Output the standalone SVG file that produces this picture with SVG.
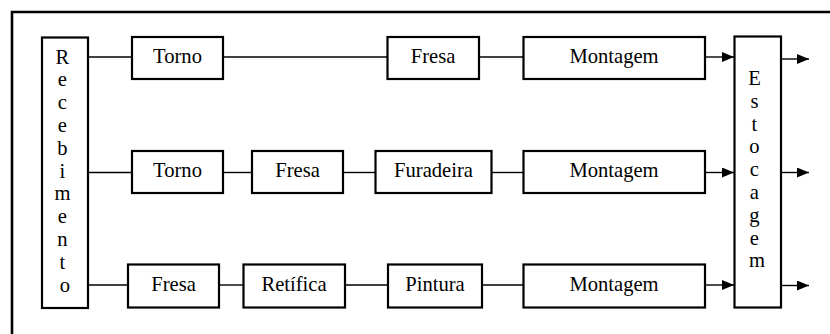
<svg xmlns="http://www.w3.org/2000/svg" width="830" height="334" viewBox="0 0 830 334">
  <style>
    .box { fill: #fff; stroke: #000; stroke-width: 2.2; }
    .frame { fill: none; stroke: #000; stroke-width: 2.6; }
    .ln { fill: none; stroke: #000; stroke-width: 1.4; }
    .arr { fill: none; stroke: #000; stroke-width: 1.4; marker-end: url(#ah); }
    text { font-family: "Liberation Serif", "Times New Roman", serif; font-size: 20.6px; fill: #000; text-anchor: middle; }
  </style>
  <defs>
    <marker id="ah" viewBox="0 0 12 10" refX="12" refY="5" markerWidth="12" markerHeight="10" markerUnits="userSpaceOnUse" orient="auto">
      <path d="M0,0 L12,5 L0,10 Z" fill="#000"/>
    </marker>
  </defs>

  <!-- outer frame (right and bottom edges run off the page) -->
  <path class="frame" d="M12,340 L12,12 L840,12"/>

  <!-- connectors -->
  <g id="connectors">
    <!-- row 1 -->
    <line class="ln" x1="88" y1="57" x2="132" y2="57"/>
    <line class="ln" x1="223" y1="57" x2="387" y2="57"/>
    <line class="ln" x1="479" y1="57" x2="523" y2="57"/>
    <line class="arr" x1="705" y1="57" x2="734" y2="57"/>
    <line class="arr" x1="781" y1="59" x2="809" y2="59"/>
    <!-- row 2 -->
    <line class="ln" x1="88" y1="172.5" x2="132" y2="172.5"/>
    <line class="ln" x1="223" y1="172.5" x2="252" y2="172.5"/>
    <line class="ln" x1="343" y1="172.5" x2="375" y2="172.5"/>
    <line class="ln" x1="491" y1="172.5" x2="523" y2="172.5"/>
    <line class="arr" x1="705" y1="172.5" x2="734" y2="172.5"/>
    <line class="arr" x1="781" y1="172.5" x2="809" y2="172.5"/>
    <!-- row 3 -->
    <line class="ln" x1="88" y1="285" x2="128" y2="285"/>
    <line class="ln" x1="219" y1="285" x2="243" y2="285"/>
    <line class="ln" x1="345" y1="285" x2="388" y2="285"/>
    <line class="ln" x1="482" y1="285" x2="523" y2="285"/>
    <line class="arr" x1="705" y1="285" x2="734" y2="285"/>
    <line class="arr" x1="781" y1="285.5" x2="809" y2="285.5"/>
  </g>

  <g id="recebimento">
    <rect class="box" x="42" y="37.5" width="46" height="270.5"/>
    <text x="65">
      <tspan x="65" y="63.5">R</tspan>
      <tspan x="65" y="86.3">e</tspan>
      <tspan x="65" y="109.1">c</tspan>
      <tspan x="65" y="131.9">e</tspan>
      <tspan x="65" y="154.7">b</tspan>
      <tspan x="65" y="177.5">i</tspan>
      <tspan x="65" y="200.3">m</tspan>
      <tspan x="65" y="223.1">e</tspan>
      <tspan x="65" y="245.9">n</tspan>
      <tspan x="65" y="268.7">t</tspan>
      <tspan x="65" y="291.5">o</tspan>
    </text>
  </g>

  <g id="estocagem">
    <rect class="box" x="734.5" y="36.5" width="46.5" height="271"/>
    <text x="757">
      <tspan x="757" y="85">E</tspan>
      <tspan x="757" y="107.8">s</tspan>
      <tspan x="757" y="130.6">t</tspan>
      <tspan x="757" y="153.4">o</tspan>
      <tspan x="757" y="176.2">c</tspan>
      <tspan x="757" y="199">a</tspan>
      <tspan x="757" y="221.8">g</tspan>
      <tspan x="757" y="244.6">e</tspan>
      <tspan x="757" y="267.4">m</tspan>
    </text>
  </g>

  <!-- row 1 -->
  <g id="torno1"><rect class="box" x="132" y="37" width="91" height="42"/><text x="177.5" y="63">Torno</text></g>
  <g id="fresa1"><rect class="box" x="387.5" y="37" width="91.5" height="42"/><text x="433" y="63">Fresa</text></g>
  <g id="montagem1"><rect class="box" x="523.5" y="37" width="181.5" height="42"/><text x="614" y="63">Montagem</text></g>

  <!-- row 2 -->
  <g id="torno2"><rect class="box" x="132" y="151" width="91" height="42"/><text x="177.5" y="177">Torno</text></g>
  <g id="fresa2"><rect class="box" x="252" y="151" width="91" height="42"/><text x="297.5" y="177">Fresa</text></g>
  <g id="furadeira"><rect class="box" x="375.5" y="151" width="116" height="42"/><text x="433.5" y="177">Furadeira</text></g>
  <g id="montagem2"><rect class="box" x="523.5" y="151" width="181.5" height="42"/><text x="614" y="177">Montagem</text></g>

  <!-- row 3 -->
  <g id="fresa3"><rect class="box" x="128" y="264.5" width="91" height="43"/><text x="173.5" y="291">Fresa</text></g>
  <g id="retifica"><rect class="box" x="243.5" y="264.5" width="101.5" height="43"/><text x="294" y="291">Retífica</text></g>
  <g id="pintura"><rect class="box" x="388" y="264.5" width="94" height="43"/><text x="435" y="291">Pintura</text></g>
  <g id="montagem3"><rect class="box" x="523.5" y="264.5" width="181.5" height="43"/><text x="614" y="291">Montagem</text></g>
</svg>
